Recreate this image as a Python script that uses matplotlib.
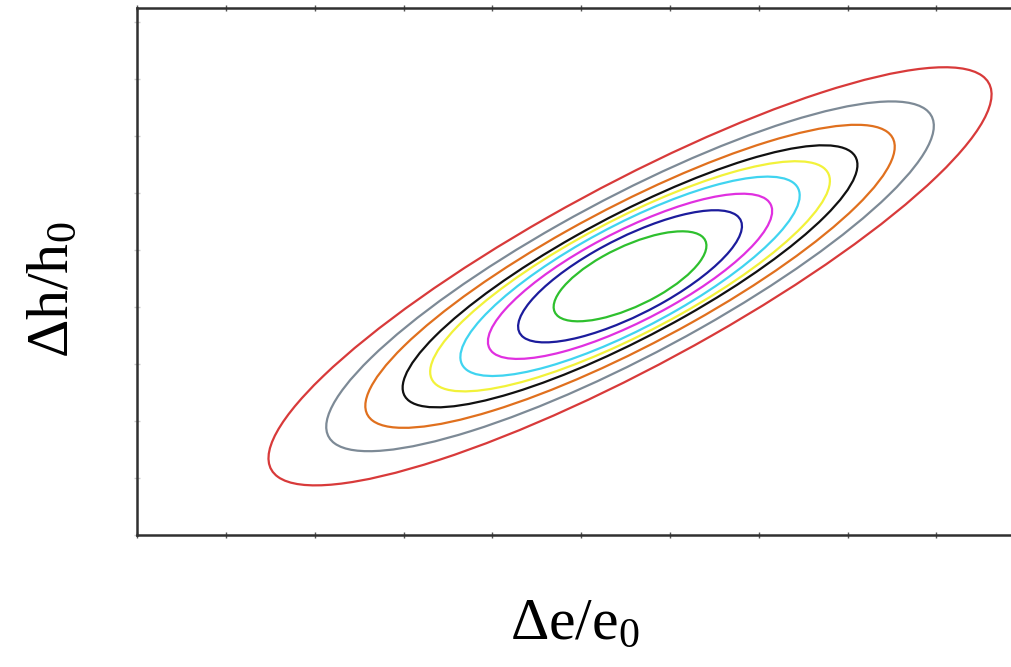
import numpy as np
import matplotlib
matplotlib.use("Agg")
from matplotlib import pyplot as plt
from matplotlib.patches import Ellipse

plt.rcParams['mathtext.fontset'] = 'custom'
plt.rcParams['mathtext.rm'] = 'Liberation Serif'
plt.rcParams['mathtext.it'] = 'Liberation Serif:italic'

# contour ellipses, innermost first (half extents along x / y, correlation)
colors = ['#2ec02e', '#1c1c9c', '#e030e0', '#40d4f0', '#f2f23a',
          '#111111', '#e0701e', '#7d8a96', '#d83a3a']
half_x = [0.86, 1.26, 1.60, 1.91, 2.25, 2.56, 2.98, 3.42, 4.07]
half_y = [0.79, 1.16, 1.45, 1.75, 2.02, 2.30, 2.66, 3.07, 3.67]
rho = [0.68, 0.76, 0.79, 0.81, 0.83, 0.85, 0.855, 0.86, 0.87]
center = (5.55, 4.54)

fig = plt.figure(figsize=(10.12, 6.67), dpi=100)
ax = fig.add_axes([0.1354, 0.198, 0.8646, 0.790])

for c, sx, sy, r in zip(colors, half_x, half_y, rho):
    cov = np.array([[sx * sx, r * sx * sy], [r * sx * sy, sy * sy]])
    vals, vecs = np.linalg.eigh(cov)
    ang = np.degrees(np.arctan2(vecs[1, 1], vecs[0, 1]))
    e = Ellipse(center, 2 * np.sqrt(vals[1]), 2 * np.sqrt(vals[0]), angle=ang,
                fill=False, edgecolor=c, lw=1.6)
    ax.add_patch(e)

ax.set_xlim(0, 9.85)
ax.set_ylim(0, 9.25)
ax.set_xticks(np.arange(0, 10))
ax.set_yticks(np.arange(0, 10))
ax.tick_params(axis='both', which='both', labelbottom=False, labelleft=False,
               top=True, direction='inout', length=4, color='#cccccc', width=1)
ax.tick_params(axis='x', which='both', bottom=True, color='#555555')
for s in ['left', 'top', 'bottom']:
    ax.spines[s].set_linewidth(1.8)
    ax.spines[s].set_color('#303030')
ax.spines['right'].set_visible(False)

fig.text(0.568, 0.063, r'$\Delta$e/e$_0$', fontsize=43, family='Liberation Serif',
         ha='center', va='center')
fig.text(0.053, 0.565, r'$\Delta$h/h$_0$', fontsize=43, family='Liberation Serif',
         ha='center', va='center', rotation=90)

fig.savefig('out.png', dpi=100)
